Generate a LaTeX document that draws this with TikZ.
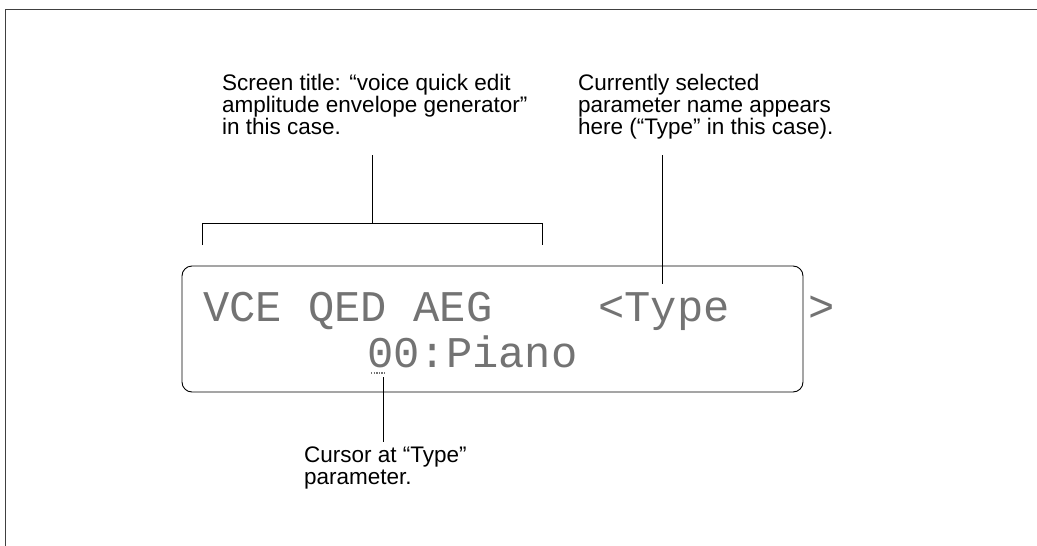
\documentclass[tikz,border=0pt]{standalone}
\usepackage{fontspec}
\setmainfont{Liberation Sans}
\newfontfamily\lcdfont{Liberation Mono}
\usetikzlibrary{arrows,arrows.meta}

\begin{document}
\begin{tikzpicture}[
x=1pt,y=-1pt,
note/.style={font=\fontsize{22.5}{22}\selectfont,align=left,inner sep=0pt,anchor=north west},
lcdtext/.style={font=\lcdfont\fontsize{43.8}{44}\selectfont,text=black!55,inner sep=0pt,anchor=base west},
leader/.style={line width=0.8pt},
frame/.style={line width=1pt,black!75} ]

\useasboundingbox (0,0) rectangle (1037,546);

\draw[frame] (5,546) -- (5,9) -- (1037,9);

% display
\draw[line width=0.9pt,rounded corners=10pt] (182,266) rectangle (803,392);

\node[lcdtext] (row1) at (203,321) {VCE QED AEG};
\node[lcdtext] (par) at (598,321) {<Type};
\node[lcdtext] (close) at (808,321) {>};
\node[lcdtext] (row2) at (367,367) {00:Piano};
\draw[black!55,line width=1.6pt,dash pattern=on 1.4pt off 1.2pt] (371,373) -- (385,373);

% notes
\node[note] (title) at (222,74) {Screen title: “voice quick edit\\amplitude envelope generator”\\in this case.};
\node[note] (selected) at (578,74) {Currently selected\\parameter name appears\\here (“Type” in this case).};
\node[note] (cursor) at (304,447) {Cursor at “Type”\\parameter.};

\coordinate (t1) at (372,155);
\coordinate (t2) at (372,223);
\coordinate (s1) at (662,155);
\coordinate (s2) at (662,284);
\coordinate (c1) at (383,377);
\coordinate (c2) at (383,442);

\draw[leader] (t1) -- (t2);
\draw[leader] (202,245) -- (202,223) -- (542,223) -- (542,245);
\draw[leader] (s1) -- (s2);
\draw[leader] (c1) -- (c2);

\end{tikzpicture}
\end{document}
